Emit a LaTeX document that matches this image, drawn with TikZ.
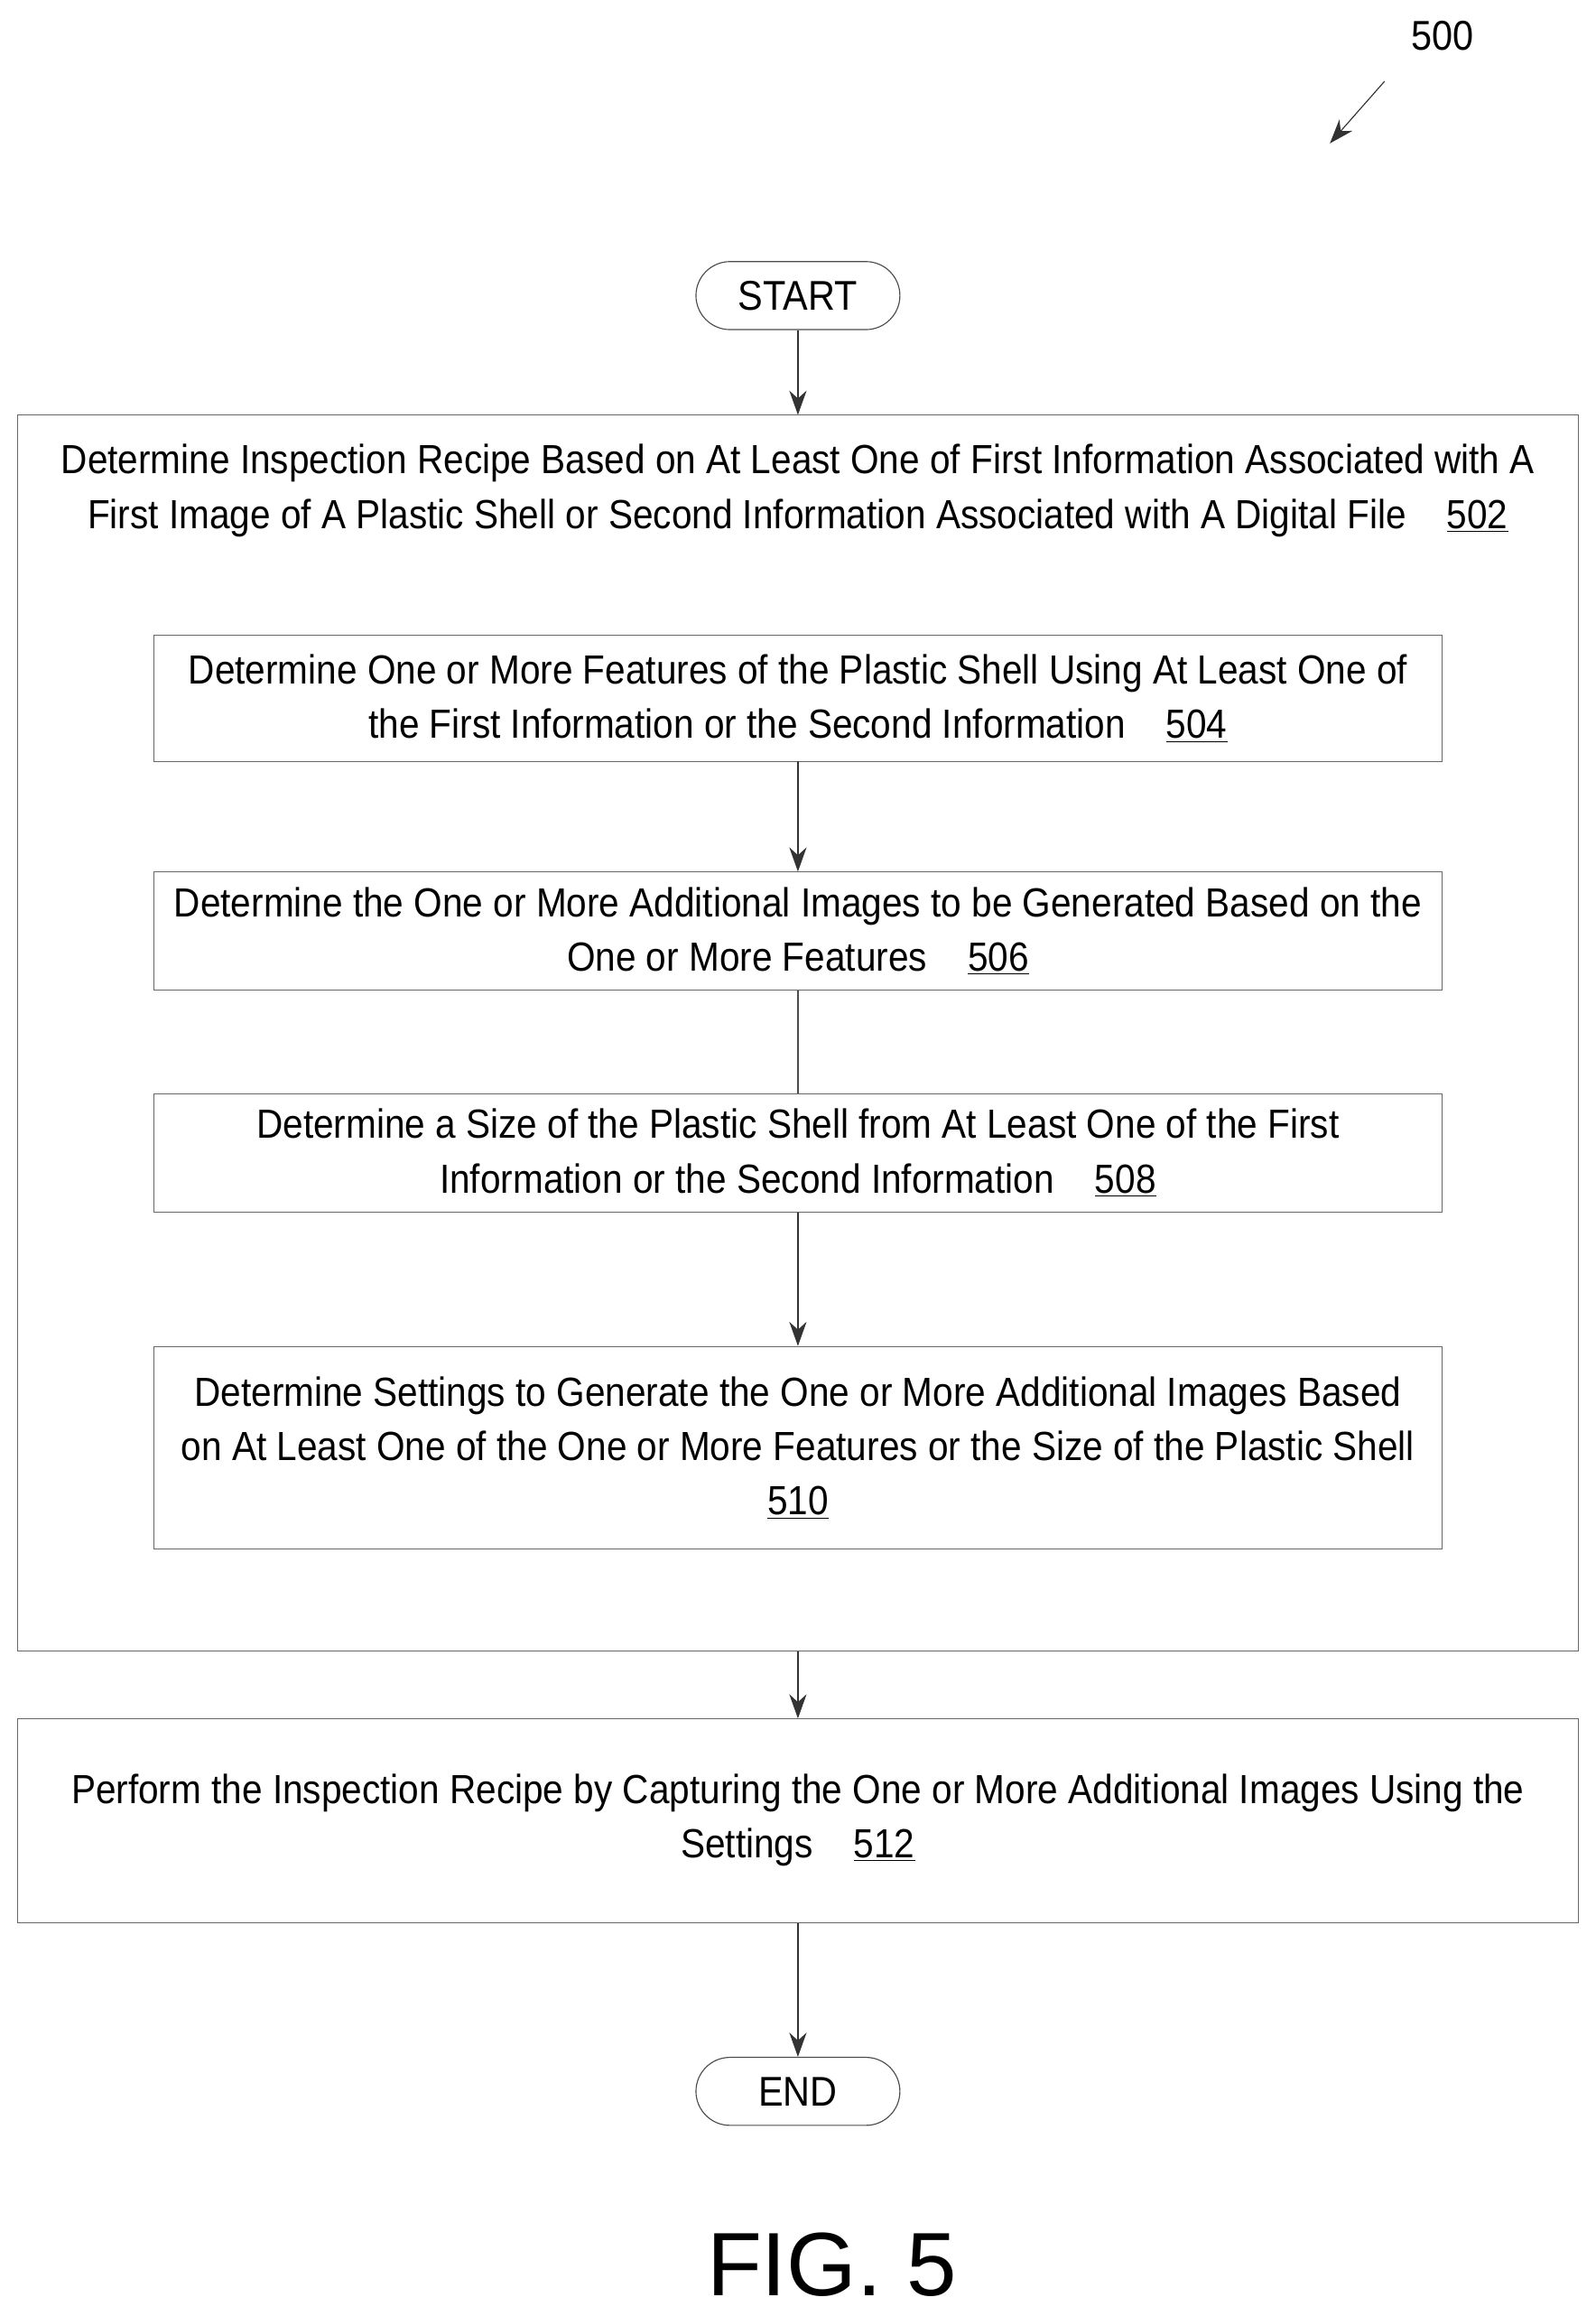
\documentclass[tikz,border=0pt]{standalone}
\usepackage{fontspec}
\setmainfont{Liberation Sans}[FakeStretch=0.9]
\newfontfamily\figfont{Liberation Sans}
\usetikzlibrary{arrows.meta}
\begin{document}
\begin{tikzpicture}[x=0.03cm,y=-0.03cm,
  box/.style={draw=black!60,line width=0.5pt,inner sep=0pt},
  term/.style={draw=black!70,line width=0.6pt,rounded corners=0.69cm,minimum width=4.14cm,minimum height=1.38cm,font=\fontsize{24}{28}\selectfont},
  txt/.style={align=center,font=\fontsize{23.5}{31.5}\selectfont,inner sep=0pt},
  arr/.style={-{Stealth[length=14pt,width=10pt]},line width=0.6pt,black!80}]
\useasboundingbox (0,0) rectangle (1080,1567);
\node[font=\fontsize{24}{28}\selectfont] (n500) at (976,24) {500};
\coordinate (a1) at (937,55); \coordinate (a2) at (900,97);
\draw[arr] (a1) -- (a2);
\node[term] (start) at (540,200) {START};
\node[box,minimum width=31.68cm,minimum height=25.08cm] (b502) at (540,699) {};
\node[txt] (t502) at (540,332) {Determine Inspection Recipe Based on At Least One of First Information Associated with A\\First Image of A Plastic Shell or Second Information Associated with A Digital File\quad\underline{502}};
\node[box,minimum width=26.16cm,minimum height=2.55cm,txt] (b504) at (540,472.5) {Determine One or More Features of the Plastic Shell Using At Least One of\\the First Information or the Second Information\quad\underline{504}};
\node[box,minimum width=26.16cm,minimum height=2.4cm,txt] (b506) at (540,630) {Determine the One or More Additional Images to be Generated Based on the\\One or More Features\quad\underline{506}};
\node[box,minimum width=26.16cm,minimum height=2.4cm,txt] (b508) at (540,780) {Determine a Size of the Plastic Shell from At Least One of the First\\Information or the Second Information\quad\underline{508}};
\node[box,minimum width=26.16cm,minimum height=4.11cm,txt] (b510) at (540,979.5) {Determine Settings to Generate the One or More Additional Images Based\\on At Least One of the One or More Features or the Size of the Plastic Shell\\\underline{510}};
\node[box,minimum width=31.68cm,minimum height=4.14cm] (b512) at (540,1232) {};
\node[txt] (t512) at (540,1231.5) {Perform the Inspection Recipe by Capturing the One or More Additional Images Using the\\Settings\quad\underline{512}};
\node[term] (end) at (540,1415) {END};
\node[font=\figfont\fontsize{52}{60}\selectfont] (fig) at (563,1532) {FIG. 5};
\draw[arr] (start) -- (b502);
\draw[arr] (b504) -- (b506);
\draw[line width=0.6pt,black!70] (b506) -- (b508);
\draw[arr] (b508) -- (b510);
\draw[arr] (b502) -- (b512);
\draw[arr] (b512) -- (end);
\end{tikzpicture}
\end{document}
